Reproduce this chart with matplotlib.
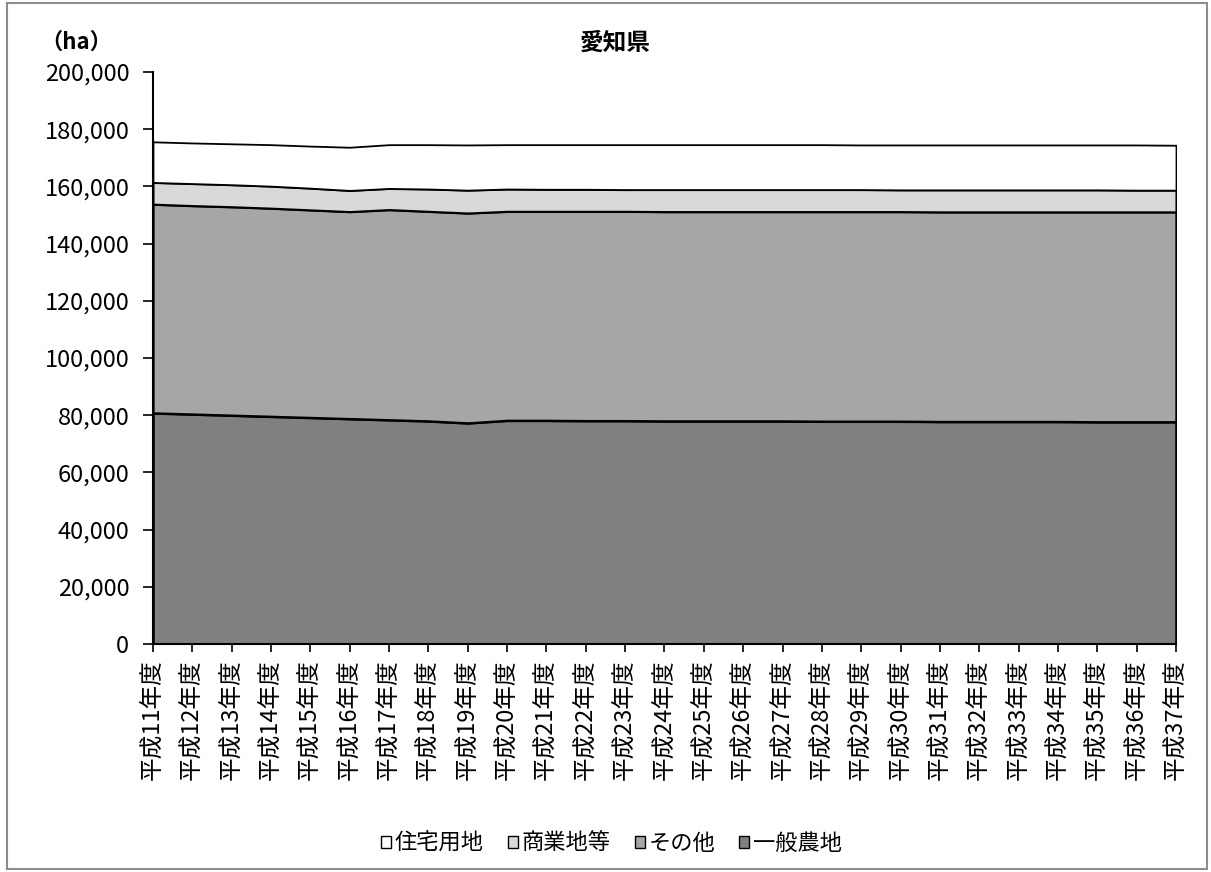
import matplotlib
matplotlib.use("Agg")
import matplotlib.pyplot as plt
import numpy as np
from matplotlib.patches import Patch, Rectangle
from matplotlib.ticker import FuncFormatter

plt.rcParams['font.family'] = ['Noto Sans CJK JP', 'DejaVu Sans']

# fiscal years H11 .. H37
years = list(range(11, 38))
labels = [f"平成{y}年度" for y in years]

# area (ha) per land use
nouchi = [80800, 80400, 80000, 79600, 79200, 78800, 78400, 78000, 77300, 78200,
          78200, 78100, 78100, 78000, 78000, 78000, 78000, 77900, 77900, 77900,
          77800, 77800, 77800, 77800, 77700, 77700, 77700]
sonota = [73000, 72900, 72900, 72800, 72600, 72400, 73500, 73300, 73400, 73100,
          73100, 73200, 73200, 73200, 73200, 73200, 73200, 73300, 73300, 73300,
          73300, 73300, 73300, 73300, 73400, 73400, 73400]
shogyo = [7600, 7700, 7700, 7700, 7600, 7400, 7400, 7800, 8000, 7800,
          7700, 7700, 7600, 7700, 7700, 7700, 7700, 7700, 7700, 7600,
          7700, 7700, 7700, 7700, 7700, 7600, 7600]
jutaku = [14200, 14200, 14300, 14500, 14700, 15100, 15300, 15500, 15800, 15500,
          15600, 15600, 15700, 15700, 15700, 15700, 15700, 15700, 15600, 15700,
          15700, 15700, 15700, 15700, 15700, 15800, 15700]

series_names = ["一般農地", "その他", "商業地等", "住宅用地"]
series_colors = ["#808080", "#A6A6A6", "#D9D9D9", "#FFFFFF"]
series_lw = [1.9, 1.7, 1.5, 1.3]

fig = plt.figure(figsize=(12.11, 8.72), dpi=100)
ax = fig.add_axes([0.1263, 0.2615, 0.8448, 0.6559])

x = np.arange(len(years))
bottom = np.zeros(len(years))
for vals, name, col, lw in zip([nouchi, sonota, shogyo, jutaku], series_names, series_colors, series_lw):
    top = bottom + np.array(vals)
    ax.fill_between(x, bottom, top, facecolor=col, edgecolor="black", linewidth=lw, zorder=2)
    bottom = top

ax.set_xlim(0, len(years) - 1)
ax.set_ylim(0, 200000)
ax.set_yticks(np.arange(0, 200001, 20000))
ax.yaxis.set_major_formatter(FuncFormatter(lambda v, p: f"{int(v):,}"))
ax.set_xticks(x)
ax.set_xticklabels(labels, rotation=90, va="top", ha="center")
ax.tick_params(axis="y", direction="out", length=7, width=1.2, labelsize=17, pad=10)
ax.tick_params(axis="x", direction="out", length=6, width=1.2, labelsize=17, pad=5)
for side in ["top", "right"]:
    ax.spines[side].set_visible(False)
for side in ["left", "bottom"]:
    ax.spines[side].set_linewidth(1.5)
    ax.spines[side].set_zorder(3)

fig.text(0.508, 0.951, "愛知県", ha="center", va="center", fontsize=17, fontweight="bold")
fig.text(0.063, 0.951, "（ha）", ha="center", va="center", fontsize=16, fontweight="bold")

handles = [Patch(facecolor=c, edgecolor="black", linewidth=1) for c in series_colors[::-1]]
fig.legend(handles, series_names[::-1], loc="center", bbox_to_anchor=(0.505, 0.033),
           ncol=4, frameon=False, fontsize=16, handlelength=0.45, handleheight=0.45,
           handletextpad=0.15, columnspacing=1.1)

fig.patches.append(Rectangle((0.006, 0.004), 0.991, 0.992, transform=fig.transFigure,
                             fill=False, edgecolor="#8c8c8c", linewidth=1.5))

fig.savefig("out.png", dpi=100)
